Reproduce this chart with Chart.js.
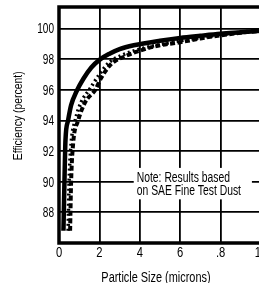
<!DOCTYPE html>
<html>
<head>
<meta charset="utf-8">
<script src="https://cdn.jsdelivr.net/npm/chart.js@4.4.1/dist/chart.umd.min.js"></script>
<style>
  html, body { margin: 0; padding: 0; background: #fff; overflow: hidden; }
  #wrap { position: relative; width: 264px; height: 283px; }
</style>
</head>
<body>
<div id="wrap"><canvas id="effChart"></canvas></div>
<script>
// tick labels as printed (the ".8" is in the original)
const xTickLabels = { 0: "0", 2: "2", 4: "4", 6: "6", 8: ".8", 10: "10" };
const yTicks = [88, 90, 92, 94, 96, 98, 100];
const xTitle = "Particle Size (microns)";
const yTitle = "Efficiency (percent)";
const noteLines = ["Note: Results based", "on SAE Fine Test Dust"];

// series (particle size, efficiency %)
const solidX  = [0.22, 0.27, 0.32, 0.45, 0.6, 0.87, 1.2, 1.6, 2.0, 2.5, 3.0, 3.7, 5.0, 6.0, 7.0, 8.0, 9.0, 10.0];
const solidY  = [86.8, 90.0, 92.7, 94.0, 95.0, 95.9, 96.7, 97.45, 97.95, 98.35, 98.65, 98.9, 99.2, 99.38, 99.52, 99.65, 99.75, 99.85];
const dottedX = [0.45, 0.5, 0.6, 0.8, 1.1, 1.5, 2.0, 2.5, 3.2, 4.0, 5.0, 6.0, 7.0, 8.0, 9.0, 10.0];
const dottedY = [86.8, 90.0, 92.5, 94.0, 95.2, 96.0, 97.0, 97.8, 98.3, 98.65, 98.95, 99.2, 99.4, 99.6, 99.75, 99.9];
const dashedX = [0.55, 0.6, 0.7, 0.95, 1.3, 1.8, 2.1, 2.6, 3.3, 4.0, 5.0, 6.0, 7.0, 8.0, 9.0, 10.0];
const dashedY = [86.8, 90.0, 92.5, 94.0, 95.2, 96.0, 96.8, 97.7, 98.2, 98.55, 98.9, 99.1, 99.35, 99.55, 99.72, 99.85];

const pts = (xs, ys) => xs.map((x, i) => ({ x, y: ys[i] }));
const FONT = "'Liberation Sans', Arial, sans-serif";

// the printed labels use a narrow face; squeeze regular text horizontally
function narrowText(ctx, text, x, y, opts) {
  const o = Object.assign({ size: 14, sx: 0.75, align: "left", base: "alphabetic", rot: 0 }, opts);
  ctx.save();
  ctx.translate(x, y);
  if (o.rot) ctx.rotate(o.rot);
  ctx.scale(o.sx, 1);
  ctx.font = o.size + "px " + FONT;
  ctx.fillStyle = "#000";
  ctx.textAlign = o.align;
  ctx.textBaseline = o.base;
  ctx.fillText(text, 0, 0);
  ctx.restore();
}

const textPlugin = {
  id: "texts",
  afterDatasetsDraw(chart) {
    const { ctx, scales: { x, y } } = chart;
    // note box over the grid
    const l = x.getPixelForValue(3.7), r = x.getPixelForValue(9.55);
    const t = y.getPixelForValue(90.9), b = y.getPixelForValue(88.85);
    ctx.save();
    ctx.fillStyle = "#fff";
    ctx.fillRect(l, t, r - l, b - t);
    ctx.restore();
    narrowText(ctx, noteLines[0], l + 3, y.getPixelForValue(89.97), { size: 14, sx: 0.74 });
    narrowText(ctx, noteLines[1], l + 3, y.getPixelForValue(89.1), { size: 14, sx: 0.74 });
  },
  afterDraw(chart) {
    const { ctx, chartArea: a, scales: { x, y } } = chart;
    ctx.save();
    ctx.strokeStyle = "#000";
    ctx.lineWidth = 3.5;
    ctx.strokeRect(a.left, a.top, a.right - a.left, a.bottom - a.top);
    ctx.restore();
    // tick labels
    Object.keys(xTickLabels).forEach(v => {
      narrowText(ctx, xTickLabels[v], x.getPixelForValue(+v), a.bottom + 14, { size: 14, sx: 0.8, align: "center" });
    });
    yTicks.forEach(v => {
      narrowText(ctx, String(v), a.left - 5, y.getPixelForValue(v) + 5, { size: 14, sx: 0.72, align: "right" });
    });
    // axis titles
    narrowText(ctx, xTitle, x.getPixelForValue(4.8), a.bottom + 39, { size: 14, sx: 0.78, align: "center" });
    narrowText(ctx, yTitle, 22, y.getPixelForValue(94.3), { size: 13, sx: 0.8, align: "center", rot: -Math.PI / 2 });
  }
};

new Chart(document.getElementById("effChart"), {
  type: "scatter",
  data: {
    datasets: [
      { label: "solid", data: pts(solidX, solidY), showLine: true, borderColor: "#000",
        borderWidth: 4.5, pointRadius: 0, cubicInterpolationMode: "monotone" },
      { label: "dotted", data: pts(dottedX, dottedY), showLine: true, borderColor: "#000",
        borderWidth: 3.5, borderDash: [2, 3], pointRadius: 0, cubicInterpolationMode: "monotone" },
      { label: "dashed", data: pts(dashedX, dashedY), showLine: true, borderColor: "#000",
        borderWidth: 4, borderDash: [5, 2.5], pointRadius: 0, cubicInterpolationMode: "monotone" }
    ]
  },
  options: {
    responsive: true, maintainAspectRatio: false, animation: false,
    layout: { padding: { left: 0, top: 7, right: 3, bottom: 0 } },
    plugins: { legend: { display: false }, tooltip: { enabled: false } },
    scales: {
      x: {
        type: "linear", min: 0, max: 10,
        grid: { color: "#000", lineWidth: 1.8, drawTicks: false },
        border: { display: false },
        ticks: { stepSize: 2, display: false },
        afterFit: (s) => { s.height = 40; s.paddingLeft = 0; s.paddingRight = 0; }
      },
      y: {
        min: 86, max: 101.4,
        afterBuildTicks: (s) => { s.ticks = yTicks.map(v => ({ value: v })); },
        grid: { color: "#000", lineWidth: 1.8, drawTicks: false },
        border: { display: false },
        ticks: { display: false },
        afterFit: (s) => { s.width = 59; s.paddingTop = 0; s.paddingBottom = 0; }
      }
    }
  },
  plugins: [textPlugin]
});
</script>
</body>
</html>
